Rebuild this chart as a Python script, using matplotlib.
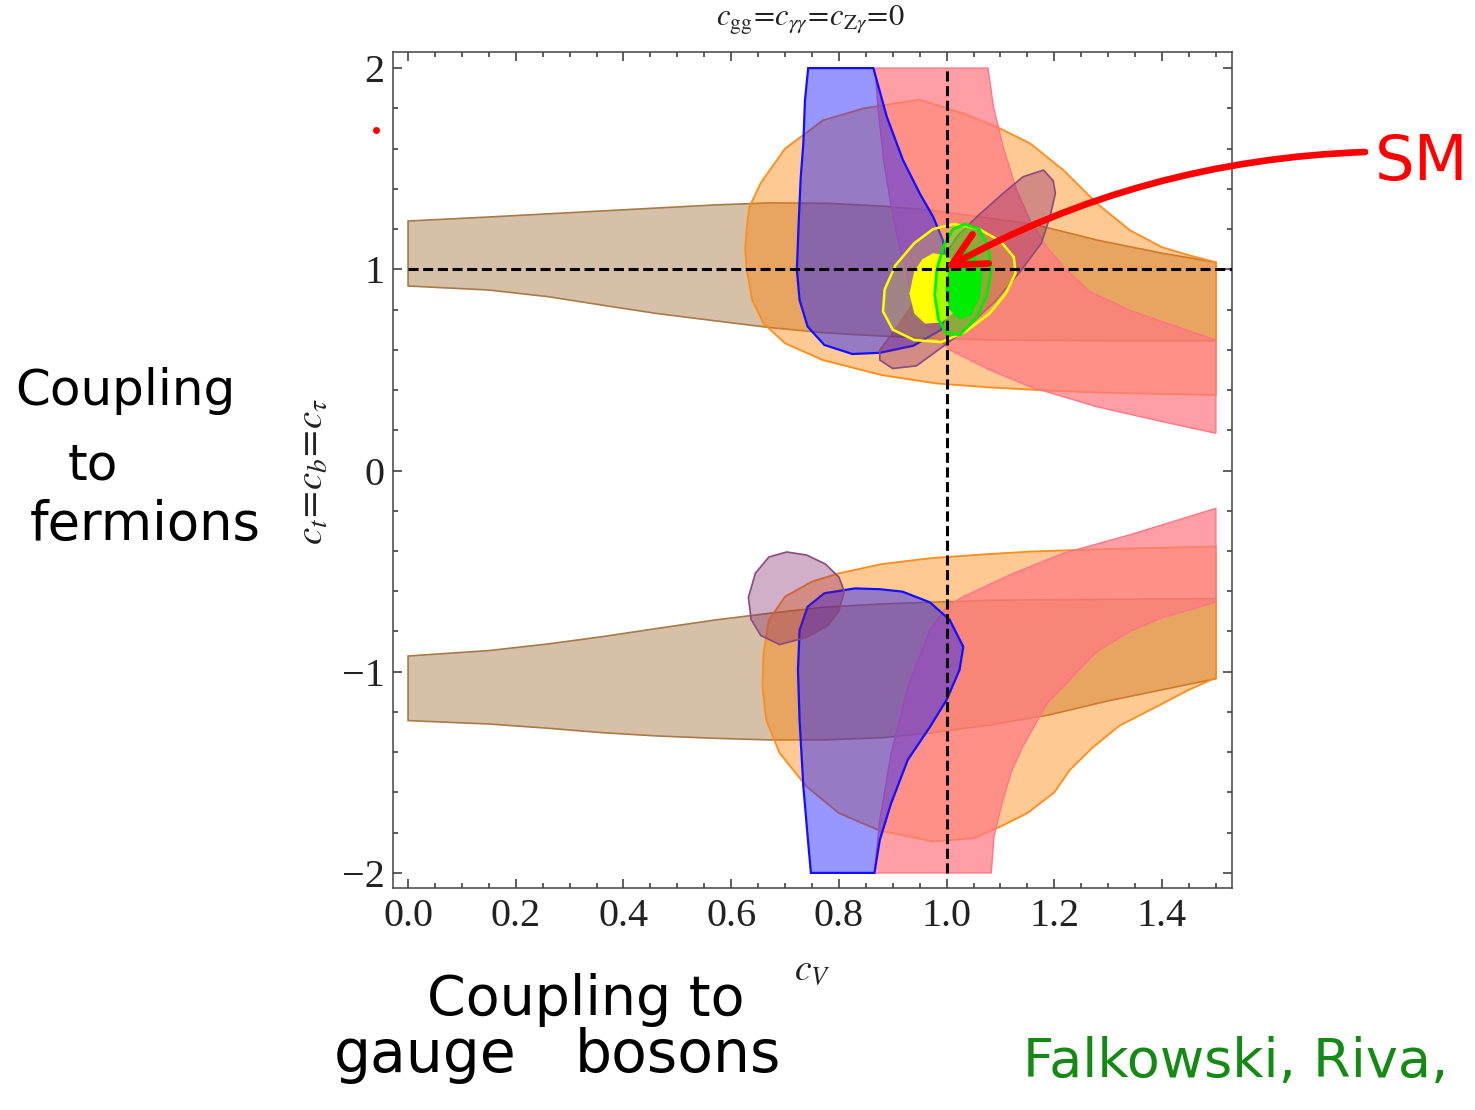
"""Higgs coupling fit: c_t=c_b=c_tau versus c_V, with hand-drawn notes."""
import numpy as np
import matplotlib

matplotlib.use("Agg")
import matplotlib.pyplot as plt
from matplotlib.ticker import MultipleLocator, FixedLocator

plt.rcParams["mathtext.fontset"] = "stix"

# --------------------------------------------------------------------------- #
# allowed regions (c_V, c_f) traced as closed outlines                         #
# --------------------------------------------------------------------------- #
brown_hi_x = [0.0, 0.15, 0.36, 0.57, 0.67, 0.78, 0.88, 0.97, 1.08, 1.16, 1.28, 1.40, 1.50,
              1.50, 1.30, 1.10, 1.00, 0.88, 0.77, 0.67, 0.57, 0.46, 0.36, 0.26, 0.15, 0.0]
brown_hi_y = [1.24, 1.26, 1.29, 1.32, 1.33, 1.328, 1.314, 1.294, 1.253, 1.225, 1.145, 1.08, 1.035,
              0.645, 0.645, 0.648, 0.655, 0.668, 0.685, 0.711, 0.744, 0.781, 0.822, 0.864, 0.897, 0.917]

brown_lo_x = [0.0, 0.15, 0.26, 0.36, 0.46, 0.57, 0.67, 0.77, 0.88, 0.97, 1.08, 1.30, 1.50,
              1.50, 1.40, 1.30, 1.19, 1.08, 0.97, 0.88, 0.77, 0.67, 0.57, 0.46, 0.36, 0.26, 0.15, 0.0]
brown_lo_y = [-0.922, -0.895, -0.862, -0.826, -0.786, -0.743, -0.71, -0.68, -0.663, -0.655, -0.645, -0.64, -0.637,
              -1.035, -1.09, -1.145, -1.215, -1.265, -1.305, -1.328, -1.339, -1.339, -1.331, -1.319, -1.303,
              -1.281, -1.26, -1.243]

orange_hi_x = [1.50, 1.29, 1.19, 1.08, 0.98, 0.88, 0.77, 0.70, 0.66, 0.639, 0.629, 0.626, 0.629, 0.634,
               0.655, 0.70, 0.77, 0.846, 0.95, 1.031, 1.093, 1.155, 1.217, 1.279, 1.34, 1.40, 1.45, 1.50]
orange_hi_y = [0.375, 0.387, 0.397, 0.413, 0.433, 0.474, 0.549, 0.632, 0.731, 0.847, 0.996, 1.10, 1.211, 1.311,
               1.43, 1.60, 1.74, 1.80, 1.843, 1.775, 1.708, 1.626, 1.493, 1.328, 1.195, 1.11, 1.07, 1.035]

orange_lo_x = [1.50, 1.30, 1.155, 1.08, 0.969, 0.88, 0.80, 0.75, 0.70, 0.67, 0.66, 0.658, 0.665, 0.69, 0.74,
               0.80, 0.876, 0.975, 1.05, 1.10, 1.15, 1.20, 1.229, 1.27, 1.32, 1.40, 1.45, 1.50]
orange_lo_y = [-0.378, -0.39, -0.403, -0.415, -0.436, -0.465, -0.511, -0.552, -0.627, -0.743, -0.909, -1.074,
               -1.24, -1.405, -1.571, -1.703, -1.79, -1.844, -1.828, -1.77, -1.703, -1.60, -1.488, -1.38,
               -1.27, -1.16, -1.09, -1.03]

red_hi_x = [1.077, 1.087, 1.105, 1.13, 1.155, 1.186, 1.217, 1.265, 1.34, 1.402, 1.50,
            1.50, 1.402, 1.279, 1.155, 1.08, 1.006, 0.96, 0.935, 0.926, 0.907, 0.895, 0.883, 0.873, 0.867]
red_hi_y = [2.0, 1.808, 1.609, 1.394, 1.245, 1.112, 1.013, 0.89, 0.797, 0.739, 0.648,
            0.185, 0.242, 0.317, 0.416, 0.50, 0.599, 0.72, 0.85, 0.98, 1.178, 1.344, 1.543, 1.791, 2.0]

red_lo_x = [1.50, 1.34, 1.217, 1.124, 1.031, 1.0, 0.969, 0.928, 0.897, 0.876, 0.866,
            1.083, 1.088, 1.103, 1.12, 1.14, 1.186, 1.25, 1.279, 1.34, 1.402, 1.50]
red_lo_y = [-0.188, -0.32, -0.411, -0.511, -0.627, -0.677, -0.79, -1.074, -1.405, -1.736, -2.0,
            -2.0, -1.82, -1.654, -1.50, -1.38, -1.16, -0.98, -0.90, -0.80, -0.73, -0.655]

blue_hi_x = [0.743, 0.737, 0.734, 0.729, 0.725, 0.722, 0.727, 0.742, 0.773, 0.825, 0.876, 0.938, 0.99,
             1.005, 1.0, 0.993, 0.975, 0.95, 0.919, 0.889, 0.864]
blue_hi_y = [2.0, 1.84, 1.626, 1.45, 1.211, 0.996, 0.847, 0.715, 0.624, 0.579, 0.585, 0.62, 0.70,
             0.85, 1.0, 1.145, 1.261, 1.378, 1.543, 1.758, 2.0]

blue_lo_x = [0.83, 0.876, 0.918, 0.969, 1.006, 1.031, 1.024, 1.0, 0.969, 0.928, 0.897, 0.876, 0.866,
             0.748, 0.742, 0.734, 0.727, 0.724, 0.727, 0.742, 0.773]
blue_lo_y = [-0.586, -0.59, -0.602, -0.655, -0.743, -0.876, -0.991, -1.14, -1.275, -1.438, -1.654, -1.836, -2.0,
             -2.0, -1.82, -1.571, -1.24, -0.992, -0.793, -0.677, -0.61]

purple_hi_x = [1.18, 1.198, 1.202, 1.192, 1.176, 1.14, 1.09, 1.03, 0.985, 0.944, 0.90, 0.876, 0.876,
               0.913, 0.96, 1.019, 1.056, 1.105, 1.142]
purple_hi_y = [1.493, 1.44, 1.378, 1.261, 1.13, 1.0, 0.84, 0.69, 0.60, 0.52, 0.507, 0.549, 0.598,
               0.732, 0.92, 1.162, 1.261, 1.378, 1.46]

purple_lo_x = [0.703, 0.74, 0.775, 0.80, 0.81, 0.80, 0.78, 0.74, 0.69, 0.655, 0.637, 0.632, 0.645, 0.67]
purple_lo_y = [-0.405, -0.42, -0.465, -0.53, -0.60, -0.70, -0.77, -0.83, -0.865, -0.82, -0.74, -0.63, -0.51, -0.43]

yellow_ring_x = [1.013, 1.06, 1.10, 1.125, 1.128, 1.11, 1.08, 1.035, 0.99, 0.94, 0.90, 0.882, 0.885,
                 0.905, 0.94, 0.975]
yellow_ring_y = [1.225, 1.20, 1.14, 1.06, 0.98, 0.88, 0.78, 0.69, 0.638, 0.648, 0.70, 0.79, 0.90,
                 1.02, 1.13, 1.20]
yellow_core_x = [0.975, 1.0, 1.02, 1.03, 1.02, 0.99, 0.96, 0.94, 0.931, 0.94, 0.955]
yellow_core_y = [1.08, 1.07, 1.02, 0.92, 0.80, 0.735, 0.73, 0.78, 0.88, 0.99, 1.05]

green_ring_x = [1.034, 1.06, 1.077, 1.083, 1.075, 1.055, 1.025, 1.0, 0.985, 0.978, 0.982, 0.995, 1.012]
green_ring_y = [1.225, 1.20, 1.12, 1.0, 0.87, 0.76, 0.675, 0.68, 0.75, 0.87, 1.0, 1.12, 1.20]
green_core_x = [1.035, 1.055, 1.066, 1.062, 1.045, 1.025, 1.005, 0.998, 1.005, 1.02]
green_core_y = [1.10, 1.06, 0.97, 0.86, 0.77, 0.75, 0.80, 0.90, 1.01, 1.08]

sm_point = (1.0, 1.0)
x_ticks = [0.0, 0.2, 0.4, 0.6, 0.8, 1.0, 1.2, 1.4]
y_ticks = [-2, -1, 0, 1, 2]

W, H = 1475, 1110


def px(x, y):
    """pixel position (from top-left) -> figure fraction"""
    return x / W, 1 - y / H


fig = plt.figure(figsize=(W / 100, H / 100), dpi=100)
ax = fig.add_axes([393 / W, 1 - 888 / H, 839 / W, 836 / H])

BROWN = (0.60, 0.40, 0.15, 0.40)
ORANGE = (1.00, 0.50, 0.00, 0.42)
RED = (1.00, 0.48, 0.51, 0.72)
BLUE = (0.10, 0.10, 1.00, 0.45)
PURPLE = (0.50, 0.10, 0.40, 0.35)

layers = [
    (brown_hi_x, brown_hi_y, BROWN, "#a87a48", 1.2),
    (brown_lo_x, brown_lo_y, BROWN, "#a87a48", 1.2),
    (orange_hi_x, orange_hi_y, ORANGE, "#ff8c1a", 1.3),
    (orange_lo_x, orange_lo_y, ORANGE, "#ff8c1a", 1.3),
    (red_hi_x, red_hi_y, RED, "#ff7585", 1.0),
    (red_lo_x, red_lo_y, RED, "#ff7585", 1.0),
    (blue_hi_x, blue_hi_y, BLUE, "#1010ff", 1.6),
    (blue_lo_x, blue_lo_y, BLUE, "#1010ff", 1.6),
    (purple_hi_x, purple_hi_y, PURPLE, "#8a4a80", 1.2),
    (purple_lo_x, purple_lo_y, PURPLE, "#8a4a80", 1.2),
    (yellow_ring_x, yellow_ring_y, (1.00, 1.00, 0.00, 0.20), "#ffff00", 1.8),
    (yellow_core_x, yellow_core_y, (1.00, 1.00, 0.00, 1.00), "none", 0),
    (green_ring_x, green_ring_y, (0.00, 1.00, 0.00, 0.35), "#00ee00", 2.0),
    (green_core_x, green_core_y, (0.00, 0.93, 0.00, 1.00), "none", 0),
]
for xs, ys, fc, ec, lw in layers:
    ax.fill(xs, ys, facecolor=fc, edgecolor=ec, linewidth=lw, zorder=2)

# SM reference lines
ax.plot([0.0, 1.53], [sm_point[1], sm_point[1]], color="black", lw=2.2,
        dashes=(3.3, 1.5), zorder=4)
ax.plot([sm_point[0], sm_point[0]], [-2.0, 2.0], color="black", lw=2.2,
        dashes=(3.3, 1.5), zorder=4)

ax.set_xlim(-0.028, 1.530)
ax.set_ylim(-2.075, 2.080)

ax.xaxis.set_major_locator(FixedLocator(x_ticks))
ax.yaxis.set_major_locator(FixedLocator(y_ticks))
ax.set_xticklabels([f"{v:.1f}" for v in x_ticks])
ax.set_yticklabels([f"{v:d}".replace("-", "\u2212") for v in y_ticks])
ax.xaxis.set_minor_locator(MultipleLocator(0.05))
ax.yaxis.set_minor_locator(MultipleLocator(0.2))
ax.tick_params(which="both", direction="in", top=True, right=True,
               color="#333333", width=1.1)
ax.tick_params(which="major", length=6.5)
ax.tick_params(which="minor", length=3.5)
ax.tick_params(axis="x", pad=7)
ax.tick_params(axis="y", pad=6)
for lab in ax.get_xticklabels() + ax.get_yticklabels():
    lab.set_fontfamily("Liberation Serif")
    lab.set_fontsize(29)
    lab.set_color("#222222")
for sp in ax.spines.values():
    sp.set_color("#444444")
    sp.set_linewidth(1.1)

fig.text(*px(811, 20), r"$c_{\mathrm{gg}}\!=\!c_{\gamma\gamma}\!=\!c_{\mathrm{Z}\gamma}\!=\!0$",
         fontsize=22, ha="center", va="center", color="#222222")
fig.text(*px(812, 970), r"$c_V$", fontsize=27, ha="center", va="center", color="#222222")
fig.text(*px(312, 472), r"$c_t\!=\!c_b\!=\!c_\tau$", fontsize=28, rotation=90,
         ha="center", va="center", color="#222222")

# hand-written notes
hand = dict(family="DejaVu Sans", color="black")
fig.text(*px(15, 405), "Coupling", fontsize=36, ha="left", va="baseline", **hand)
fig.text(*px(68, 480), "to", fontsize=36, ha="left", va="baseline", **hand)
fig.text(*px(30, 540), "fermions", fontsize=38, ha="left", va="baseline", **hand)
fig.text(*px(427, 1015), "Coupling to", fontsize=40, ha="left", va="baseline", **hand)
fig.text(*px(334, 1072), "gauge", fontsize=42, ha="left", va="baseline", **hand)
fig.text(*px(575, 1072), "bosons", fontsize=42, ha="left", va="baseline", **hand)
fig.text(*px(1023, 1077), "Falkowski, Riva,", fontsize=39, ha="left",
         va="baseline", family="DejaVu Sans", color="#148a14")
fig.text(*px(1375, 180), "SM", fontsize=45, ha="left", va="baseline",
         family="DejaVu Sans", color="red")

ax.annotate("", xy=(0.997, 1.003), xytext=(1.777, 1.583),
            xycoords="data", textcoords="data", annotation_clip=False,
            arrowprops=dict(arrowstyle="->,head_length=1.2,head_width=0.6",
                            mutation_scale=20, color="red", lw=4.8,
                            connectionstyle="arc3,rad=0.12",
                            shrinkA=0, shrinkB=0),
            zorder=6)
ax.plot([-0.059], [1.692], "o", color="red", ms=5, mec="none", clip_on=False)

fig.savefig("out.png", dpi=100)
plt.close(fig)
